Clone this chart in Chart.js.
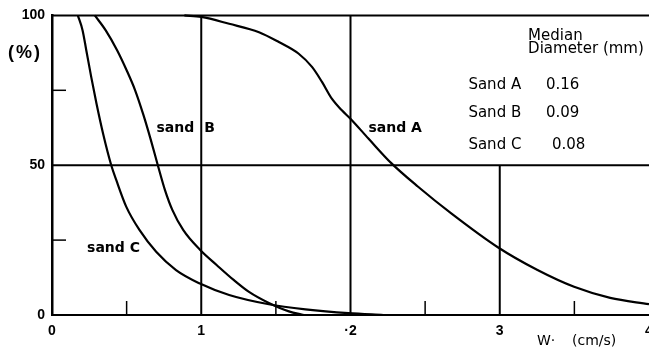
<!DOCTYPE html>
<html><head><meta charset="utf-8">
<script src="https://cdn.jsdelivr.net/npm/chart.js@4"></script>
<style>html,body{margin:0;padding:0;background:#fff}canvas{display:block}</style>
</head><body>
<canvas id="c" width="649" height="347"></canvas>
<script>
// ---- data ----
const sandA_w   = [0.887, 1.00, 1.187, 1.387, 1.52, 1.653, 1.742, 1.809, 1.875, 1.942, 1.998, 2.12, 2.275, 2.453, 2.675, 2.987, 3.253, 3.498, 3.74, 4.00];
const sandA_pct = [100, 99.5, 97.2, 94.4, 91.1, 87.2, 82.8, 77.8, 72.2, 68.3, 65.6, 58.9, 50.6, 42.8, 33.9, 22.6, 15.0, 9.4, 5.7, 3.6];
const sandB_w   = [0.287, 0.36, 0.437, 0.50, 0.557, 0.613, 0.663, 0.709, 0.757, 0.807, 0.88, 0.993, 1.103, 1.217, 1.32, 1.453, 1.587, 1.687];
const sandB_pct = [100, 95, 88.3, 81.7, 75, 66.7, 58.3, 50, 41.7, 35, 28.3, 21.7, 16.7, 11.7, 7.7, 4.0, 1.2, 0];
const sandC_w   = [0.173, 0.205, 0.23, 0.263, 0.298, 0.342, 0.397, 0.431, 0.498, 0.587, 0.698, 0.831, 0.987, 1.187, 1.453, 1.698, 1.987, 2.22];
const sandC_pct = [100, 95, 88.3, 79.4, 70.6, 60.6, 50, 45, 36.1, 28.3, 21.1, 15, 10.6, 6.7, 3.6, 1.9, 0.6, 0];

const xTickValues = [0, 1, 2, 3, 4];
const xTickLabels = ['0', '1', '·2', '3', '4'];
const yTickValues = [0, 50, 100];
const yTickLabels = ['0', '50', '100'];
const xMinorTicks = [0.5, 1.5, 2.5, 3.5];
const yMinorTicks = [25, 75];
const refX      = [1, 2, 3];
const refXTop   = [100, 100, 50];
const refY      = [50, 100];

const curveNames = ['sand A', 'sand B', 'sand C'];
const tableNames = ['Sand A', 'Sand B', 'Sand C'];
const medianDiameters = ['0.16', '0.09', '0.08'];
const tableTitle = ['Median', 'Diameter (mm)'];
const yTitle = '(%)';
const xTitle = ['W·', '(cm/s)'];

// ---- chart ----
const zip = (xs, ys) => xs.map((x, i) => ({x, y: ys[i]}));
const lineStyle = {showLine: true, borderColor: '#000', borderWidth: 2.2, pointRadius: 0,
  cubicInterpolationMode: 'monotone', clip: 3, fill: false};

const overlay = {
  id: 'overlay',
  beforeDatasetsDraw(chart) {
    const {ctx, chartArea: a, scales: {x, y}} = chart;
    ctx.save();
    ctx.strokeStyle = '#000';
    ctx.lineWidth = 2;
    ctx.lineCap = 'butt';
    refY.forEach(v => {
      const py = y.getPixelForValue(v);
      ctx.beginPath(); ctx.moveTo(a.left, py); ctx.lineTo(a.right, py); ctx.stroke();
    });
    refX.forEach((v, i) => {
      const px = x.getPixelForValue(v);
      ctx.beginPath(); ctx.moveTo(px, y.getPixelForValue(0)); ctx.lineTo(px, y.getPixelForValue(refXTop[i])); ctx.stroke();
    });
    ctx.lineWidth = 1.5;
    yMinorTicks.forEach(v => {
      const py = y.getPixelForValue(v);
      ctx.beginPath(); ctx.moveTo(a.left, py); ctx.lineTo(a.left + 14, py); ctx.stroke();
    });
    xMinorTicks.forEach(v => {
      const px = x.getPixelForValue(v);
      ctx.beginPath(); ctx.moveTo(px, a.bottom); ctx.lineTo(px, a.bottom - 14); ctx.stroke();
    });
    ctx.restore();
  },
  afterDraw(chart) {
    const {ctx, scales: {x, y}} = chart;
    ctx.save();
    ctx.fillStyle = '#000';
    ctx.textBaseline = 'middle';
    ctx.textAlign = 'left';
    // curve labels
    ctx.font = 'bold 14px "DejaVu Sans"';
    ctx.fillText('sand', x.getPixelForValue(0.70), y.getPixelForValue(62.3));
    ctx.fillText('B', x.getPixelForValue(1.02), y.getPixelForValue(62.3));
    ctx.fillText(curveNames[0], x.getPixelForValue(2.12), y.getPixelForValue(62.3));
    ctx.fillText(curveNames[2], x.getPixelForValue(0.235), y.getPixelForValue(22.3));
    // table
    ctx.font = '15px "DejaVu Sans"';
    ctx.fillText(tableTitle[0], x.getPixelForValue(3.19), y.getPixelForValue(93.2));
    ctx.fillText(tableTitle[1], x.getPixelForValue(3.19), y.getPixelForValue(88.7));
    const rowY = [76.7, 67.3, 56.7];
    tableNames.forEach((t, i) => {
      ctx.fillText(t, x.getPixelForValue(2.79), y.getPixelForValue(rowY[i]));
      ctx.fillText(medianDiameters[i], x.getPixelForValue(i === 2 ? 3.35 : 3.31), y.getPixelForValue(rowY[i]));
    });
    // axis titles
    ctx.font = 'bold 18px "Liberation Sans"';
    ctx.letterSpacing = '2px';
    ctx.fillText(yTitle, 8, y.getPixelForValue(87.3));
    ctx.letterSpacing = '0px';
    ctx.font = '14px "DejaVu Sans"';
    ctx.fillText(xTitle[0], 537, 341);
    ctx.fillText(xTitle[1], 572, 341);
    ctx.restore();
  }
};

new Chart(document.getElementById('c'), {
  type: 'scatter',
  data: {datasets: [
    {label: curveNames[0], data: zip(sandA_w, sandA_pct), ...lineStyle},
    {label: curveNames[1], data: zip(sandB_w, sandB_pct), ...lineStyle},
    {label: curveNames[2], data: zip(sandC_w, sandC_pct), ...lineStyle}
  ]},
  options: {
    responsive: false, animation: false, devicePixelRatio: 1,
    layout: {padding: {top: 15, right: 0, left: 0, bottom: 0}},
    plugins: {legend: {display: false}, tooltip: {enabled: false}},
    scales: {
      x: {
        type: 'linear', min: 0, max: 4,
        afterBuildTicks: s => { s.ticks = xTickValues.map(v => ({value: v})); },
        afterFit: s => { s.height = 32; s.paddingLeft = 0; s.paddingRight = 0; },
        grid: {display: false, drawTicks: false},
        border: {display: true, color: '#000', width: 2},
        ticks: {callback: (v, i) => xTickLabels[i], color: '#000', padding: 8,
          font: {family: '"Liberation Sans"', size: 14, weight: 'bold'}, maxRotation: 0, autoSkip: false}
      },
      y: {
        type: 'linear', min: 0, max: 100,
        afterBuildTicks: s => { s.ticks = yTickValues.map(v => ({value: v})); },
        afterFit: s => { s.width = 52; },
        grid: {display: false, drawTicks: false},
        border: {display: true, color: '#000', width: 2.5},
        ticks: {callback: (v, i) => yTickLabels[i], color: '#000', padding: 7,
          font: {family: '"Liberation Sans"', size: 14, weight: 'bold'}, autoSkip: false}
      }
    }
  },
  plugins: [overlay]
});
</script>
</body></html>
